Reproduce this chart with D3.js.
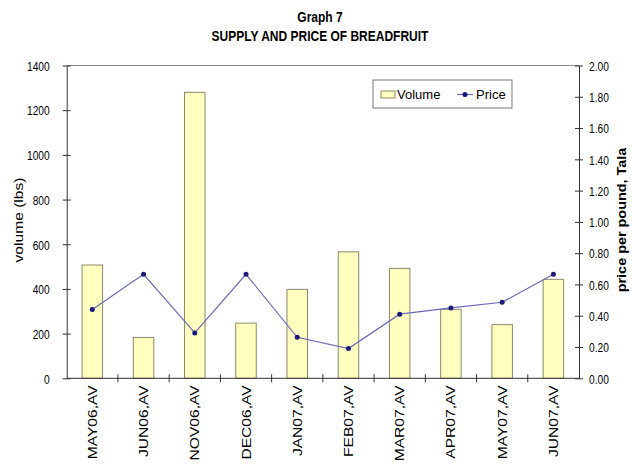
<!DOCTYPE html>
<html>
<head>
<meta charset="utf-8">
<script src="https://cdn.jsdelivr.net/npm/d3@7"></script>
<style>
  body { margin: 0; background: #fff; }
  svg text { font-family: "Liberation Sans", Arial, sans-serif; fill: #000; }
</style>
</head>
<body>
<script>
// data
var months = ["MAY06,AV", "JUN06,AV", "NOV06,AV", "DEC06,AV", "JAN07,AV", "FEB07,AV", "MAR07,AV", "APR07,AV", "MAY07,AV", "JUN07,AV"];
var volume = [507, 183, 1280, 247, 398, 566, 492, 309, 240, 443];
var price = [0.44, 0.665, 0.29, 0.665, 0.262, 0.19, 0.41, 0.45, 0.486, 0.665];
var volumeTicks = [0, 200, 400, 600, 800, 1000, 1200, 1400];
var priceTicks = [0, 0.2, 0.4, 0.6, 0.8, 1.0, 1.2, 1.4, 1.6, 1.8, 2.0];

var width = 632, height = 464;
// plot area edges
var plot = { left: 66.7, right: 579, top: 65.5, bottom: 378.3 };
var axisColor = "#333";

var svg = d3.select("body").append("svg")
  .attr("width", width)
  .attr("height", height);

// the source picture is squeezed sideways, so stretch/shrink text along its length
function stretch(sel, f) {
  sel.each(function() {
    var len = this.getComputedTextLength();
    d3.select(this).attr("textLength", len * f).attr("lengthAdjust", "spacingAndGlyphs");
  });
}

// scales
var x = d3.scaleBand().domain(months).range([plot.left, plot.right]);
var yVol = d3.scaleLinear().domain([0, 1400]).range([plot.bottom, plot.top]);
var yPrice = d3.scaleLinear().domain([0, 2]).range([plot.bottom, plot.top]);

// titles
svg.append("text").attr("transform", "translate(320,22) scale(1,1.2)").attr("text-anchor", "middle")
  .style("font-weight", "bold").style("font-size", "12px").text("Graph 7");
svg.append("text").attr("transform", "translate(320,41) scale(1,1.2)").attr("text-anchor", "middle")
  .style("font-weight", "bold").style("font-size", "12px").text("SUPPLY AND PRICE OF BREADFRUIT");

// top border of plot area
svg.append("line")
  .attr("x1", plot.left).attr("x2", plot.right).attr("y1", plot.top).attr("y2", plot.top)
  .attr("stroke", "#8c8c8c");

// bars
var bw = x.bandwidth() * 0.4;
svg.selectAll(".bar")
  .data(volume)
  .enter().append("rect")
  .attr("class", "bar")
  .attr("x", function(d, i) { return x(months[i]) + x.bandwidth() / 2 - bw / 2; })
  .attr("y", function(d) { return yVol(d); })
  .attr("width", bw)
  .attr("height", function(d) { return plot.bottom - yVol(d); })
  .attr("fill", "#ffffc0")
  .attr("stroke", "#8a8a6a")
  .attr("stroke-width", 1);

// price line
var line = d3.line()
  .x(function(d, i) { return x(months[i]) + x.bandwidth() / 2; })
  .y(function(d) { return yPrice(d); });

svg.append("path")
  .datum(price)
  .attr("d", line)
  .attr("fill", "none")
  .attr("stroke", "#6a6ab8")
  .attr("stroke-width", 1.2);

svg.selectAll(".pt")
  .data(price)
  .enter().append("circle")
  .attr("class", "pt")
  .attr("cx", function(d, i) { return x(months[i]) + x.bandwidth() / 2; })
  .attr("cy", function(d) { return yPrice(d); })
  .attr("r", 2.5)
  .attr("fill", "#1a1a7a");

// left axis
var gl = svg.append("g").attr("transform", "translate(" + plot.left + ",0)")
  .call(d3.axisLeft(yVol).tickValues(volumeTicks).tickFormat(d3.format("d"))
    .tickSizeInner(4).tickSizeOuter(0).tickPadding(13));

// right axis
var gr = svg.append("g").attr("transform", "translate(" + plot.right + ",0)")
  .call(d3.axisRight(yPrice).tickValues(priceTicks).tickFormat(d3.format(".2f"))
    .tickSizeInner(4).tickSizeOuter(0).tickPadding(6));

// ticks cross the axis line
gl.selectAll(".tick line").attr("x1", -4).attr("x2", 4);
gr.selectAll(".tick line").attr("x1", -4).attr("x2", 4);

[gl, gr].forEach(function(g) {
  g.select(".domain").attr("stroke", axisColor);
  g.selectAll(".tick line").attr("stroke", axisColor);
  g.selectAll(".tick text").style("font-size", "12px").style("font-family", null).attr("dy", "0.4em");
  stretch(g.selectAll(".tick text"), 0.85);
});

// bottom axis, ticks at category boundaries
var gb = svg.append("g").attr("transform", "translate(0," + plot.bottom + ")");
gb.append("line").attr("x1", plot.left).attr("x2", plot.right).attr("stroke", axisColor);
gb.selectAll(".bt")
  .data(months.slice(1))
  .enter().append("line")
  .attr("class", "bt")
  .attr("x1", function(d) { return x(d); })
  .attr("x2", function(d) { return x(d); })
  .attr("y1", -4).attr("y2", 4)
  .attr("stroke", axisColor);
var bl = gb.selectAll(".bl")
  .data(months)
  .enter().append("text")
  .attr("class", "bl")
  .attr("transform", function(d) { return "translate(" + (x(d) + x.bandwidth() / 2) + ",7) rotate(-90)"; })
  .attr("text-anchor", "end")
  .attr("dy", "0.35em")
  .style("font-size", "13px")
  .text(function(d) { return d; });
stretch(bl, 1.2);

// axis titles
var yt = svg.append("text")
  .attr("transform", "translate(18,220) rotate(-90)")
  .attr("text-anchor", "middle")
  .attr("dy", "0.35em")
  .style("font-size", "13px")
  .text("volume (lbs)");
stretch(yt, 1.2);

var yt2 = svg.append("text")
  .attr("transform", "translate(622,220) rotate(-90)")
  .attr("text-anchor", "middle")
  .attr("dy", "0.35em")
  .style("font-size", "12px")
  .style("font-weight", "bold")
  .text("price per pound, Tala");
stretch(yt2, 1.2);

// legend
var lg = svg.append("g").attr("transform", "translate(373,80)");
lg.append("rect").attr("width", 139).attr("height", 28)
  .attr("fill", "#fff").attr("stroke", "#777").attr("stroke-width", 1);
lg.append("rect").attr("x", 8).attr("y", 11).attr("width", 14).attr("height", 7)
  .attr("fill", "#ffffc0").attr("stroke", "#8a8a6a");
lg.append("text").attr("x", 24).attr("y", 14.5).attr("dy", "0.35em").style("font-size", "13px").text("Volume");
lg.append("line").attr("x1", 84).attr("x2", 100).attr("y1", 14.5).attr("y2", 14.5)
  .attr("stroke", "#6a6ab8").attr("stroke-width", 1.2);
lg.append("circle").attr("cx", 92).attr("cy", 14.5).attr("r", 2.5).attr("fill", "#1a1a7a");
lg.append("text").attr("x", 103).attr("y", 14.5).attr("dy", "0.35em").style("font-size", "13px").text("Price");
</script>
</body>
</html>
